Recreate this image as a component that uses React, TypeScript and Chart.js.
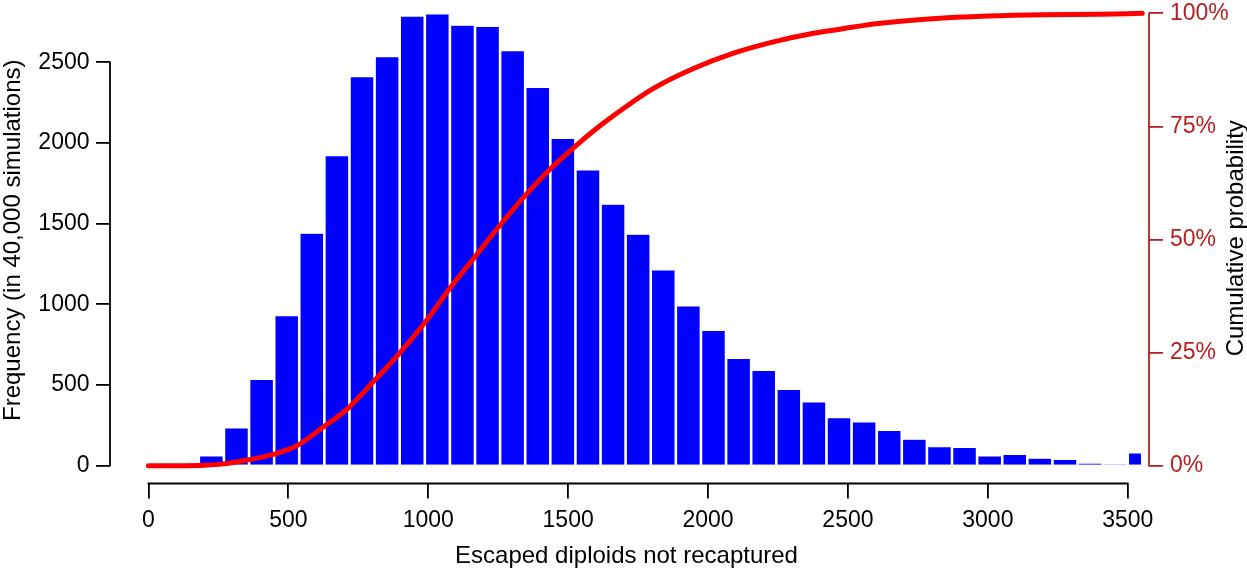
import React, { useEffect, useRef } from 'react';
import { Chart, registerables } from 'chart.js';

Chart.register(...registerables);

// ---------------- data ----------------
// histogram bin edges (last bin is a partial one that ends at the maximum)
const binEdges = [
  180, 269.7, 359.5, 449.2, 538.9, 628.6, 718.4, 808.1, 897.8, 987.6,
  1077.3, 1167.0, 1256.8, 1346.5, 1436.2, 1525.9, 1615.7, 1705.4, 1795.1, 1884.9,
  1974.6, 2064.3, 2154.1, 2243.8, 2333.5, 2423.2, 2513.0, 2602.7, 2692.4, 2782.2,
  2871.9, 2961.6, 3051.4, 3141.1, 3230.8, 3320.5, 3410.3, 3500, 3552,
];
// counts per bin
const frequencies = [
  60, 235, 535, 930, 1441, 1922, 2411, 2535, 2787, 2800,
  2730, 2723, 2572, 2345, 2029, 1833, 1621, 1435, 1213, 990,
  839, 665, 591, 473, 395, 298, 271, 219, 164, 118,
  114, 60, 70, 46, 39, 16, 10, 79,
];
// cumulative probability curve
const cumulativeX = [
  0, 100, 200, 268, 357, 446, 530, 619, 715, 804, 899, 995, 1077, 1167,
  1257, 1346, 1436, 1531, 1615, 1705, 1805, 1948, 2091, 2234, 2377, 2472, 2600, 2800,
  3000, 3200, 3400, 3552,
];
const cumulativeP = [
  0, 0, 0.001, 0.004, 0.013, 0.025, 0.044, 0.083, 0.128, 0.186, 0.25, 0.322, 0.392, 0.462,
  0.532, 0.597, 0.656, 0.709, 0.752, 0.793, 0.834, 0.878, 0.912, 0.937, 0.956, 0.965, 0.977, 0.988,
  0.994, 0.997, 0.998, 1.0,
];

const xTickValues = [0, 500, 1000, 1500, 2000, 2500, 3000, 3500];
const freqTickValues = [0, 500, 1000, 1500, 2000, 2500];
const probTickValues = [0, 0.25, 0.5, 0.75, 1];

const xTitle = 'Escaped diploids not recaptured';
const yTitle = 'Frequency (in 40,000 simulations)';
const y2Title = 'Cumulative probability';

// ---------------- scale ranges / style ----------------
const X_MIN = -137.5;
const X_MAX = 3576;
const FREQ_MIN = -110.4;
const FREQ_MAX = 2868;
const FREQ_AT_FULL_PROB = 2804; // frequency level aligned with 100%

const FONT = "'Liberation Sans', Arial, Helvetica, sans-serif";
const TICK_FONT_SIZE = 23;
const TITLE_FONT_SIZE = 24;
const BLUE = '#0000ff';
const RED = '#ff0000';
const FIREBRICK = '#b22222';
const AXIS_LW = 1.8;

const rAxesPlugin = {
  id: 'rStyleAxes',
  afterDraw(chart: any) {
    const { ctx, chartArea, scales } = chart;
    const x = scales.x;
    const y = scales.y;
    const y2 = scales.y2;
    ctx.save();
    ctx.lineWidth = AXIS_LW;
    ctx.lineCap = 'square';
    // bottom axis line
    ctx.strokeStyle = '#000';
    ctx.beginPath();
    ctx.moveTo(x.getPixelForValue(xTickValues[0]), chartArea.bottom);
    ctx.lineTo(x.getPixelForValue(xTickValues[xTickValues.length - 1]), chartArea.bottom);
    ctx.stroke();
    // left axis line
    ctx.beginPath();
    ctx.moveTo(chartArea.left, y.getPixelForValue(freqTickValues[0]));
    ctx.lineTo(chartArea.left, y.getPixelForValue(freqTickValues[freqTickValues.length - 1]));
    ctx.stroke();
    // right axis line
    ctx.strokeStyle = FIREBRICK;
    ctx.beginPath();
    ctx.moveTo(chartArea.right, y2.getPixelForValue(probTickValues[0]));
    ctx.lineTo(chartArea.right, y2.getPixelForValue(probTickValues[probTickValues.length - 1]));
    ctx.stroke();

    // titles
    ctx.fillStyle = '#000';
    ctx.font = `${TITLE_FONT_SIZE}px ${FONT}`;
    ctx.textAlign = 'center';
    ctx.textBaseline = 'alphabetic';
    const midX = (chartArea.left + chartArea.right) / 2;
    const midY = (chartArea.top + chartArea.bottom) / 2;
    ctx.fillText(xTitle, midX - 3, chartArea.bottom + 79.5);

    ctx.save();
    ctx.translate(chartArea.left - 90.5, midY - 3);
    ctx.rotate(-Math.PI / 2);
    ctx.fillText(yTitle, 0, 0);
    ctx.restore();

    ctx.save();
    ctx.translate(chart.width - 4.5, midY - 5);
    ctx.rotate(-Math.PI / 2);
    ctx.fillText(y2Title, 0, 0);
    ctx.restore();

    ctx.restore();
  },
};

export default function App() {
  const canvasRef = useRef<HTMLCanvasElement>(null);

  useEffect(() => {
    const canvas = canvasRef.current;
    if (!canvas) return;
    Chart.defaults.font.family = FONT;

    const nBins = frequencies.length;
    const regularBars: any[] = [];
    for (let i = 0; i < nBins - 1; i++) {
      regularBars.push({ x: (binEdges[i] + binEdges[i + 1]) / 2, y: frequencies[i] });
    }
    const lastStart = binEdges[nBins - 1];
    const lastEnd = binEdges[nBins];
    const lastCenter = (lastStart + lastEnd) / 2;
    // a hidden (null) neighbour lets 'flex' sizing give the partial bin its true width
    const partialBar = [
      { x: 2 * lastStart - lastCenter, y: null },
      { x: lastCenter, y: frequencies[nBins - 1] },
    ];
    const curve = cumulativeX.map((x, i) => ({ x, y: cumulativeP[i] }));

    const barStyle = {
      backgroundColor: BLUE,
      borderColor: '#ffffff',
      borderWidth: { left: 1.3, right: 1.3, top: 0.6, bottom: 0 },
      borderSkipped: false,
      barThickness: 'flex',
      categoryPercentage: 1,
      barPercentage: 1,
      stack: 'hist',
      inflateAmount: 0,
      order: 1,
      xAxisID: 'x',
      yAxisID: 'y',
    };

    const noPad = (s: any) => {
      s.paddingTop = 0;
      s.paddingBottom = 0;
      s.paddingLeft = 0;
      s.paddingRight = 0;
    };

    const chart = new Chart(canvas, {
      type: 'bar',
      data: {
        datasets: [
          {
            type: 'line',
            data: curve,
            xAxisID: 'x',
            yAxisID: 'y2',
            borderColor: RED,
            borderWidth: 5,
            pointRadius: 0,
            cubicInterpolationMode: 'monotone',
            borderCapStyle: 'round',
            borderJoinStyle: 'round',
            fill: false,
            order: 0,
          } as any,
          { ...barStyle, data: regularBars } as any,
          { ...barStyle, data: partialBar } as any,
        ],
      },
      options: {
        animation: false,
        responsive: true,
        maintainAspectRatio: false,
        events: [],
        layout: { padding: { top: 3, left: 0, right: 0, bottom: 0 } },
        plugins: { legend: { display: false }, tooltip: { enabled: false } },
        scales: {
          x: {
            type: 'linear',
            position: 'bottom',
            min: X_MIN,
            max: X_MAX,
            offset: false,
            afterBuildTicks: (s: any) => {
              s.ticks = xTickValues.map((v) => ({ value: v }));
            },
            afterFit: (s: any) => {
              s.height = 84.5;
              noPad(s);
            },
            grid: {
              offset: false,
              drawOnChartArea: false,
              drawTicks: true,
              tickLength: 15,
              color: '#000',
              lineWidth: AXIS_LW,
            },
            border: { display: false },
            ticks: {
              color: '#000',
              font: { size: TICK_FONT_SIZE, family: FONT },
              padding: 8,
              maxRotation: 0,
              autoSkip: false,
              callback: (v: any) => String(v),
            },
          },
          y: {
            type: 'linear',
            position: 'left',
            stacked: false,
            min: FREQ_MIN,
            max: FREQ_MAX,
            afterBuildTicks: (s: any) => {
              s.ticks = freqTickValues.map((v) => ({ value: v }));
            },
            afterFit: (s: any) => {
              s.width = 110;
              noPad(s);
            },
            grid: { drawOnChartArea: false, drawTicks: true, tickLength: 14, color: '#000', lineWidth: AXIS_LW },
            border: { display: false },
            ticks: {
              color: '#000',
              font: { size: TICK_FONT_SIZE, family: FONT },
              padding: 6.5,
              autoSkip: false,
              callback: (v: any) => String(v),
            },
          },
          y2: {
            type: 'linear',
            position: 'right',
            min: FREQ_MIN / FREQ_AT_FULL_PROB,
            max: FREQ_MAX / FREQ_AT_FULL_PROB,
            afterBuildTicks: (s: any) => {
              s.ticks = probTickValues.map((v) => ({ value: v }));
            },
            afterFit: (s: any) => {
              s.width = 98;
              noPad(s);
            },
            grid: { drawOnChartArea: false, drawTicks: true, tickLength: 14, color: FIREBRICK, lineWidth: AXIS_LW },
            border: { display: false },
            ticks: {
              color: FIREBRICK,
              font: { size: TICK_FONT_SIZE, family: FONT },
              padding: 7,
              autoSkip: false,
              callback: (v: any) => `${Math.round(v * 100)}%`,
            },
          },
        },
      } as any,
      plugins: [rAxesPlugin],
    });

    return () => chart.destroy();
  }, []);

  return (
    <div style={{ position: 'fixed', left: 0, top: 0, width: 1247, height: 568, background: '#ffffff' }}>
      <canvas ref={canvasRef} />
    </div>
  );
}
